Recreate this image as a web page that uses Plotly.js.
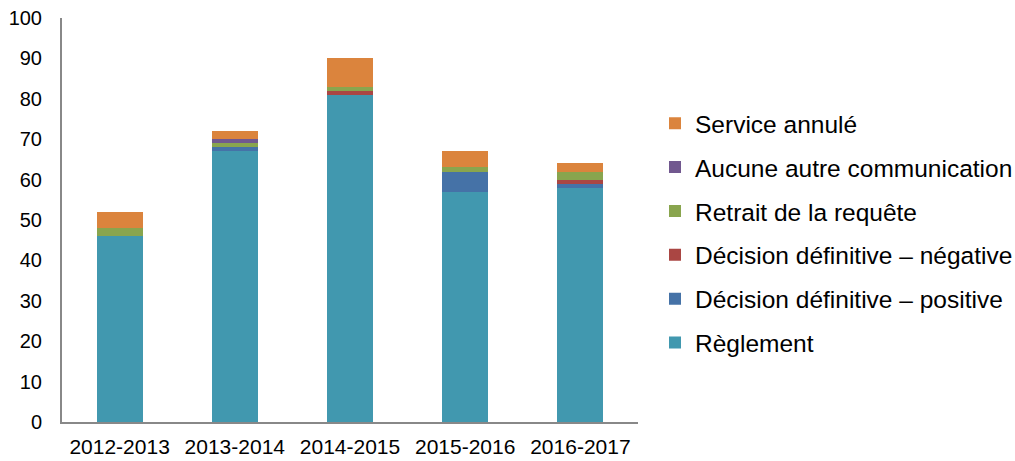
<!DOCTYPE html>
<html>
<head>
<meta charset="utf-8">
<script src="https://cdn.plot.ly/plotly-3.0.1.min.js"></script>
<style>html,body{margin:0;padding:0;background:#fff;}#chart{width:1015px;height:461px;}</style>
</head>
<body>
<div id="chart"></div>
<script>
const years = ["2012-2013", "2013-2014", "2014-2015", "2015-2016", "2016-2017"];
const reglement = [46, 67, 81, 57, 58];
const decisionPositive = [0, 1, 0, 5, 1];
const decisionNegative = [0, 0, 1, 0, 1];
const retraitRequete = [2, 1, 1, 1, 2];
const aucuneCommunication = [0, 1, 0, 0, 0];
const serviceAnnule = [4, 2, 7, 4, 2];

const seriesNames = ["Règlement", "Décision définitive – positive", "Décision définitive – négative", "Retrait de la requête", "Aucune autre communication", "Service annulé"];
const seriesValues = [reglement, decisionPositive, decisionNegative, retraitRequete, aucuneCommunication, serviceAnnule];
const seriesColors = ["#4198AF", "#4572A7", "#AA4643", "#89A54E", "#71588F", "#DB843D"];

const traces = seriesNames.map((n, i) => ({
  type: "bar",
  name: n,
  x: years,
  y: seriesValues[i],
  marker: {color: seriesColors[i], line: {width: 0}},
  legendgroup: "g" + i,
  legendrank: 1000 - i,
  hoverinfo: "skip"
}));

const layout = {
  width: 1015,
  height: 461,
  margin: {l: 62, r: 377, t: 18, b: 39, autoexpand: false},
  barmode: "stack",
  bargap: 0.6,
  paper_bgcolor: "#fff",
  plot_bgcolor: "#fff",
  font: {family: "Liberation Sans, Arial, sans-serif", color: "#000"},
  showlegend: true,
  legend: {
    traceorder: "grouped",
    tracegroupgap: 9,
    x: 1.0 + 17 / 576,
    xanchor: "left",
    y: 0.795,
    yanchor: "top",
    font: {size: 24.5, color: "#000"},
    bgcolor: "rgba(0,0,0,0)"
  },
  xaxis: {
    showline: true,
    linecolor: "#888",
    linewidth: 2,
    showgrid: false,
    zeroline: false,
    ticks: "",
    ticklabelstandoff: 5,
    tickfont: {size: 21, color: "#000"}
  },
  yaxis: {
    range: [0, 100],
    dtick: 10,
    showline: true,
    linecolor: "#888",
    linewidth: 2,
    showgrid: false,
    zeroline: false,
    ticks: "",
    ticklabelstandoff: 14,
    tickfont: {size: 20, color: "#000"}
  }
};

Plotly.newPlot("chart", traces, layout, {displayModeBar: false, staticPlot: true});
</script>
</body>
</html>
